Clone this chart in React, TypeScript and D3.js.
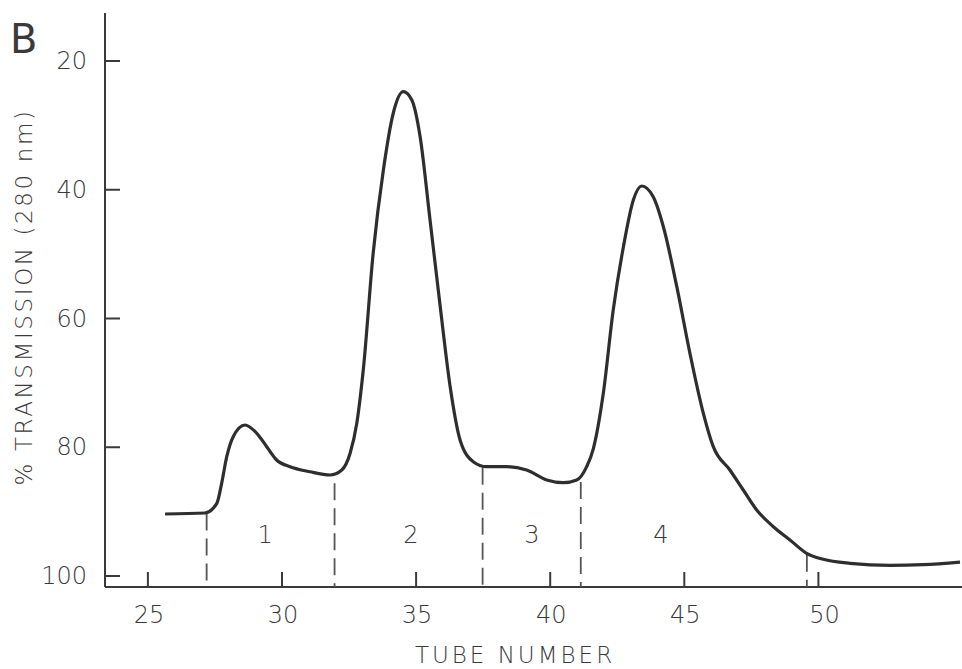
import React from "react";
import * as d3 from "d3";

// tube number vs % transmission
const tube = [
  25.64, 27.13, 27.57, 27.75, 27.94, 28.18, 28.62, 29.06, 29.43, 29.8, 30.3, 31.04, 31.79,
  32.23, 32.54, 32.79, 33.03, 33.4, 33.78, 34.15, 34.52, 34.84, 35.15, 35.52, 35.89, 36.27,
  36.64, 37.13, 37.63, 38.38, 39.12, 39.87, 40.49, 40.99, 41.36, 41.61, 41.98, 42.35, 42.73,
  43.1, 43.41, 43.84, 44.22, 44.72, 45.21, 45.71, 46.08, 46.7, 47.2, 47.7, 48.32, 48.94,
  49.56, 50.18, 51.18, 52.67, 53.91, 55.28,
];
const transmission = [
  90.37, 90.21, 88.71, 85.6, 81.47, 78.36, 76.54, 77.83, 79.91, 81.98, 83.02, 83.8, 84.31,
  83.53, 80.94, 76.23, 68.0, 49.83, 36.93, 28.08, 24.77, 26.06, 31.76, 44.7, 57.83, 70.59,
  78.87, 82.24, 83.02, 83.02, 83.53, 85.09, 85.51, 85.09, 83.02, 80.2, 71.62, 58.68, 48.85,
  41.59, 39.42, 41.08, 45.74, 55.06, 65.41, 74.73, 79.91, 83.53, 86.64, 89.75, 92.34, 94.41,
  96.47, 97.41, 98.03, 98.34, 98.24, 97.83,
];

const tubeTicks = [25, 30, 35, 40, 45, 50];
const transTicks = [20, 40, 60, 80, 100];

// fraction cut lines (tube, where the dash starts)
const cutTube = [27.19, 31.96, 37.48, 41.14, 49.57];
const cutTop = [90.3, 85.6, 83.2, 85.4, 96.7];

const fractions = ["1", "2", "3", "4"];
const fractionTube = [29.37, 34.81, 39.32, 44.13];

const W = 962;
const H = 669;
const font = "'DejaVu Sans', sans-serif";
const ink = "#3a3a3a";

export default function App() {
  const x = d3.scaleLinear().domain([25, 50]).range([147.9, 818.4]);
  const y = d3.scaleLinear().domain([20, 100]).range([61, 576]);

  const axisX = 105; // y axis position
  const axisY = 587; // x axis position

  const pts = tube.map((t, i) => [t, transmission[i]] as [number, number]);
  const line = d3
    .line<[number, number]>()
    .x((d) => x(d[0]))
    .y((d) => y(d[1]))
    .curve(d3.curveMonotoneX);

  return (
    <svg
      width={W}
      height={H}
      style={{ position: "absolute", left: 0, top: 0, background: "#fff" }}
      fontFamily={font}
    >
      {/* axes */}
      <line x1={axisX} x2={axisX} y1={13} y2={axisY} stroke={ink} strokeWidth={2} />
      <line x1={axisX} x2={W} y1={axisY} y2={axisY} stroke={ink} strokeWidth={2} />

      {transTicks.map((v) => (
        <g key={v}>
          <line x1={axisX} x2={axisX + 15} y1={y(v)} y2={y(v)} stroke={ink} strokeWidth={2} />
          <text
            x={87}
            y={y(v)}
            textAnchor="end"
            dominantBaseline="central"
            fontSize={24}
            fontWeight={200}
            fill={ink}
          >
            {v}
          </text>
        </g>
      ))}

      {tubeTicks.map((t) => (
        <g key={t}>
          <line x1={x(t)} x2={x(t)} y1={axisY} y2={axisY - 15} stroke={ink} strokeWidth={2} />
          <text
            x={x(t) + (t === 50 ? 6 : 1)}
            y={623}
            textAnchor="middle"
            fontSize={24}
            fontWeight={200}
            fill={ink}
          >
            {t}
          </text>
        </g>
      ))}

      {/* cut lines */}
      {cutTube.map((t, i) => (
        <line
          key={t}
          x1={x(t)}
          x2={x(t)}
          y1={y(cutTop[i])}
          y2={axisY}
          stroke="#555"
          strokeWidth={1.8}
          strokeDasharray="17 8"
        />
      ))}

      {fractions.map((f, i) => (
        <text
          key={f}
          x={x(fractionTube[i])}
          y={y(93.6)}
          textAnchor="middle"
          dominantBaseline="central"
          fontSize={24}
          fontWeight={200}
          fill={ink}
        >
          {f}
        </text>
      ))}

      <path d={line(pts) || ""} fill="none" stroke="#2e2e2e" strokeWidth={3.2} strokeLinejoin="round" />

      {/* titles */}
      <text x={515} y={663} textAnchor="middle" fontSize={23} fontWeight={200} letterSpacing={3} fill={ink}>
        TUBE NUMBER
      </text>
      <text
        transform="translate(32,297) rotate(-90)"
        textAnchor="middle"
        fontSize={23}
        fontWeight={200}
        letterSpacing={2.6}
        fill={ink}
      >
        % TRANSMISSION (280 nm)
      </text>
      <text x={10} y={53} fontSize={40} fontWeight={400} fill={ink}>
        B
      </text>
    </svg>
  );
}
